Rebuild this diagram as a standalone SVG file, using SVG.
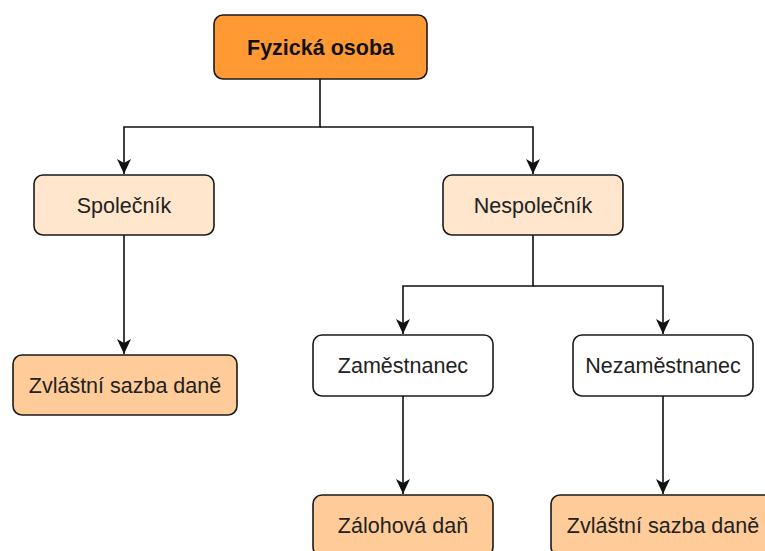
<svg xmlns="http://www.w3.org/2000/svg" width="765" height="551" viewBox="0 0 765 551">
<defs>
<style>
.box{stroke:#1a1a1a;stroke-width:1.6}
.t{font-family:"Liberation Sans",Arial,sans-serif;font-size:21.5px;fill:#222;text-anchor:middle}
.b{font-weight:bold;fill:#111}
.c{fill:none;stroke:#111;stroke-width:1.6}
.dark{fill:#FF9933}
.peach{fill:#FFE6CC}
.light{fill:#FFCC99}
.white{fill:#FFFFFF}
</style>
<marker id="arr" markerUnits="userSpaceOnUse" markerWidth="16" markerHeight="16" viewBox="0 0 16 16" refX="15" refY="8" orient="auto">
<path d="M0,1 L15,8 L0,15 L4,8 Z" fill="#111"/>
</marker>
</defs>
<rect width="765" height="551" fill="#fff"/>
<g id="connectors">
<path class="c" d="M320,79 V127 H124 V174" marker-end="url(#arr)"/>
<path class="c" d="M320,127 H533 V174" marker-end="url(#arr)"/>
<path class="c" d="M124,235 V354" marker-end="url(#arr)"/>
<path class="c" d="M533,235 V286 H403 V334" marker-end="url(#arr)"/>
<path class="c" d="M533,286 H663 V334" marker-end="url(#arr)"/>
<path class="c" d="M403,396 V494" marker-end="url(#arr)"/>
<path class="c" d="M663,396 V494" marker-end="url(#arr)"/>
</g>
<g id="fyzicka">
<rect class="box dark" x="214" y="15" width="213" height="64" rx="9"/>
<text class="t b" x="320.5" y="54.5">Fyzická osoba</text>
</g>
<g id="spolecnik">
<rect class="box peach" x="34" y="175" width="180" height="60" rx="9"/>
<text class="t" x="124" y="212.5">Společník</text>
</g>
<g id="nespolecnik">
<rect class="box peach" x="443" y="175" width="180" height="60" rx="9"/>
<text class="t" x="533" y="212.5">Nespolečník</text>
</g>
<g id="zvlastni1">
<rect class="box light" x="13" y="355" width="224" height="60" rx="9"/>
<text class="t" x="125" y="392.5">Zvláštní sazba daně</text>
</g>
<g id="zamestnanec">
<rect class="box white" x="313" y="335" width="180" height="61" rx="9"/>
<text class="t" x="403" y="373">Zaměstnanec</text>
</g>
<g id="nezamestnanec">
<rect class="box white" x="573" y="335" width="180" height="61" rx="9"/>
<text class="t" x="663" y="373">Nezaměstnanec</text>
</g>
<g id="zalohova">
<rect class="box light" x="313" y="495" width="180" height="61" rx="9"/>
<text class="t" x="403" y="533">Zálohová daň</text>
</g>
<g id="zvlastni2">
<rect class="box light" x="551" y="495" width="224" height="61" rx="9"/>
<text class="t" x="663" y="533">Zvláštní sazba daně</text>
</g>
</svg>
